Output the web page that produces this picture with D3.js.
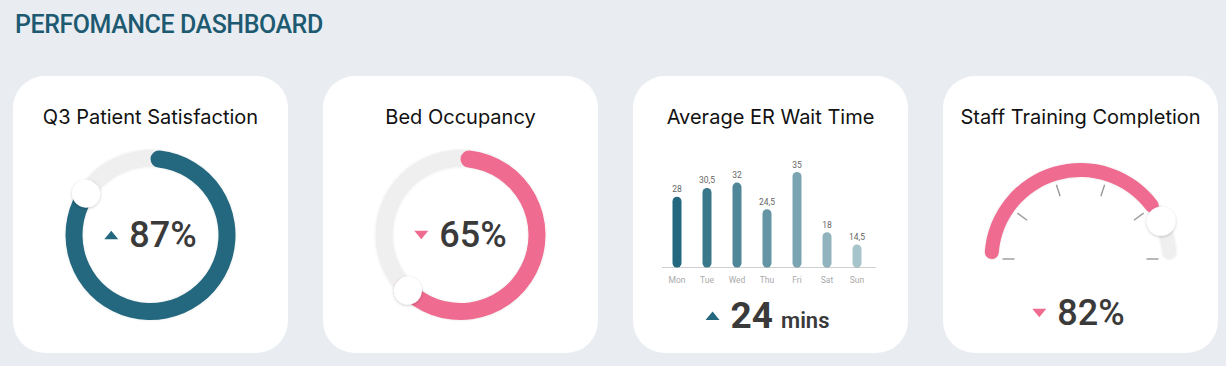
<!DOCTYPE html>
<html>
<head>
<meta charset="utf-8">
<script src="https://cdn.jsdelivr.net/npm/d3@7"></script>
<style>
  html, body { margin: 0; padding: 0; background: #e9edf1; }
  svg { display: block; font-family: Inter, "Noto Sans", sans-serif; }
</style>
</head>
<body>
<svg id="chart"></svg>
<script>
const dashboardTitle = "PERFOMANCE DASHBOARD";
const cardTitles = ["Q3 Patient Satisfaction", "Bed Occupancy", "Average ER Wait Time", "Staff Training Completion"];

const satisfaction = { value: 87, trend: "up" };
const occupancy = { value: 65, trend: "down" };

const days = ["Mon", "Tue", "Wed", "Thu", "Fri", "Sat", "Sun"];
const waitTimes = [28, 30.5, 32, 24.5, 35, 18, 14.5];
const avgWait = { value: 24, unit: "mins", trend: "up" };

const training = { value: 82, trend: "down" };
const gaugeTicks = [0, 20, 40, 60, 80, 100];

const width = 1226;
const height = 366;
const teal = "#23687e";
const pink = "#ef6b90";
const track = "#efefef";
const textDark = "#3a3a3a";
const numberFont = "Roboto, sans-serif";

const svg = d3.select("#chart").attr("width", width).attr("height", height);
const defs = svg.append("defs");

const knobShadow = defs.append("filter").attr("id", "knob-shadow")
  .attr("x", "-50%").attr("y", "-50%").attr("width", "200%").attr("height", "200%");
knobShadow.append("feDropShadow").attr("dx", 0).attr("dy", 1).attr("stdDeviation", 1.6)
  .attr("flood-color", "#000").attr("flood-opacity", 0.22);

const trackShadow = defs.append("filter").attr("id", "track-shadow")
  .attr("x", "-20%").attr("y", "-20%").attr("width", "140%").attr("height", "140%");
trackShadow.append("feDropShadow").attr("dx", 0).attr("dy", 0).attr("stdDeviation", 1.2)
  .attr("flood-color", "#000").attr("flood-opacity", 0.12);

svg.append("rect").attr("width", width).attr("height", height).attr("fill", "#e9edf1");

svg.append("text")
  .attr("x", 15)
  .attr("y", 33)
  .attr("font-family", "Roboto, sans-serif")
  .attr("font-size", 25)
  .attr("font-weight", 500)
  .attr("letter-spacing", -0.45)
  .attr("fill", "#1d5a71")
  .text(dashboardTitle);

const cardX = d3.scaleBand().domain(d3.range(4)).range([13, 1218]).paddingInner(35 / 310).paddingOuter(0);
const cardY = 76;
const cardH = 277;
const bw = cardX.bandwidth();

const cards = svg.selectAll("g.card")
  .data(cardTitles)
  .join("g")
  .attr("class", "card")
  .attr("transform", (d, i) => `translate(${cardX(i)},${cardY})`);

cards.append("rect")
  .attr("width", bw)
  .attr("height", cardH)
  .attr("rx", 32)
  .attr("fill", "#ffffff");

cards.append("text")
  .attr("x", bw / 2)
  .attr("y", 48)
  .attr("text-anchor", "middle")
  .attr("font-size", 20)
  .attr("fill", "#111")
  .text((d) => d);

function trianglePath(cx, cy, up) {
  const w = 14, h = 8.5;
  return up
    ? `M${cx - w / 2},${cy + h / 2}L${cx + w / 2},${cy + h / 2}L${cx},${cy - h / 2}Z`
    : `M${cx - w / 2},${cy - h / 2}L${cx + w / 2},${cy - h / 2}L${cx},${cy + h / 2}Z`;
}

// centred "triangle + value" readout
function drawReadout(g, cx, baseline, parts, trend, color) {
  const group = g.append("g");
  const texts = parts.map((p) => group.append("text")
    .attr("y", baseline)
    .attr("font-family", numberFont)
    .attr("font-size", p.size)
    .attr("font-weight", p.weight)
    .attr("fill", textDark)
    .text(p.text));
  const widths = texts.map((t) => t.node().getComputedTextLength());
  const triW = 14;
  const gap = 11;
  const total = triW + gap + d3.sum(widths) + (parts.length - 1) * 8;
  let x = cx - total / 2;
  group.append("path")
    .attr("d", trianglePath(x + triW / 2, baseline - parts[0].size * 0.36 + 1, trend === "up"))
    .attr("fill", color);
  x += triW + gap;
  texts.forEach((t, i) => {
    t.attr("x", x);
    x += widths[i] + 8;
  });
}

// ---- donuts
const donutR = { inner: 68, outer: 85 };
const donutMid = (donutR.inner + donutR.outer) / 2;
const knobR = 14;
const donutAngle = d3.scaleLinear().domain([0, 100]).range([0, 2 * Math.PI]);
const donutArc = d3.arc().innerRadius(donutR.inner).outerRadius(donutR.outer).cornerRadius((donutR.outer - donutR.inner) / 2);

function drawDonut(g, cx, cy, item, color) {
  const c = g.append("g").attr("transform", `translate(${cx},${cy})`);
  c.append("path")
    .attr("d", donutArc({ startAngle: 0, endAngle: 2 * Math.PI }))
    .attr("fill", track)
    .attr("filter", "url(#track-shadow)");
  const end = donutAngle(item.value);
  c.append("path")
    .attr("d", donutArc({ startAngle: 0, endAngle: end }))
    .attr("fill", color);
  const ka = end - Math.asin(knobR / donutMid);
  c.append("circle")
    .attr("cx", donutMid * Math.sin(ka))
    .attr("cy", -donutMid * Math.cos(ka))
    .attr("r", knobR)
    .attr("fill", "#fff")
    .attr("filter", "url(#knob-shadow)");
  drawReadout(g, cx, cy + 12, [{ text: `${item.value}%`, size: 36, weight: 500 }], item.trend, color);
}

drawDonut(cards.filter((d, i) => i === 0), bw / 2, 159, satisfaction, teal);
drawDonut(cards.filter((d, i) => i === 1), bw / 2, 159, occupancy, pink);

// ---- bar chart
const barCard = cards.filter((d, i) => i === 2);
const x = d3.scaleBand().domain(days).range([29, 239]);
const y = d3.scaleLinear().domain([8, 35]).range([191.5, 96]);
const shade = d3.scaleLinear().domain([0, days.length - 1]).range([1, 0.4]);
const barW = 9;

barCard.append("line")
  .attr("x1", 29).attr("x2", 243)
  .attr("y1", y.range()[0]).attr("y2", y.range()[0])
  .attr("stroke", "#cfcfcf").attr("stroke-width", 1);

barCard.selectAll("rect.bar")
  .data(waitTimes)
  .join("rect")
  .attr("class", "bar")
  .attr("x", (d, i) => x(days[i]) + x.bandwidth() / 2 - barW / 2)
  .attr("y", (d) => y(d))
  .attr("width", barW)
  .attr("height", (d) => y.range()[0] - y(d))
  .attr("rx", barW / 2)
  .attr("fill", teal)
  .attr("fill-opacity", (d, i) => shade(i));

barCard.selectAll("text.val")
  .data(waitTimes)
  .join("text")
  .attr("class", "val")
  .attr("x", (d, i) => x(days[i]) + x.bandwidth() / 2)
  .attr("y", (d) => y(d) - 4.5)
  .attr("text-anchor", "middle")
  .attr("font-family", "Roboto, sans-serif")
  .attr("font-size", 8.5)
  .attr("fill", "#666")
  .text((d) => String(d).replace(".", ","));

barCard.selectAll("text.day")
  .data(days)
  .join("text")
  .attr("class", "day")
  .attr("x", (d) => x(d) + x.bandwidth() / 2)
  .attr("y", 206.5)
  .attr("text-anchor", "middle")
  .attr("font-family", "Roboto, sans-serif")
  .attr("font-size", 8.5)
  .attr("fill", "#aaa")
  .text((d) => d);

drawReadout(barCard, bw / 2 - 3, 252, [
  { text: `${avgWait.value}`, size: 37, weight: 700 },
  { text: avgWait.unit, size: 22, weight: 600 },
], avgWait.trend, teal);

// ---- gauge
const gaugeCard = cards.filter((d, i) => i === 3);
const gcx = bw / 2, gcy = 183;
const gR = { inner: 82, outer: 96 };
const gMid = (gR.inner + gR.outer) / 2;
const gaugeAngle = d3.scaleLinear().domain([0, 100]).range([-Math.PI / 2, Math.PI / 2]);
const gaugeArc = d3.arc().innerRadius(gR.inner).outerRadius(gR.outer).cornerRadius((gR.outer - gR.inner) / 2);
const gg = gaugeCard.append("g").attr("transform", `translate(${gcx},${gcy})`);

gg.append("path")
  .attr("d", gaugeArc({ startAngle: gaugeAngle(0), endAngle: gaugeAngle(100) }))
  .attr("fill", track)
  .attr("filter", "url(#track-shadow)");
const gEnd = gaugeAngle(training.value);
gg.append("path")
  .attr("d", gaugeArc({ startAngle: gaugeAngle(0), endAngle: gEnd }))
  .attr("fill", pink);

gg.selectAll("line.tick")
  .data(gaugeTicks)
  .join("line")
  .attr("class", "tick")
  .attr("x1", (d) => 66 * Math.sin(gaugeAngle(d)))
  .attr("y1", (d) => -66 * Math.cos(gaugeAngle(d)))
  .attr("x2", (d) => 78 * Math.sin(gaugeAngle(d)))
  .attr("y2", (d) => -78 * Math.cos(gaugeAngle(d)))
  .attr("stroke", "#9a9a9a")
  .attr("stroke-width", 1.4);

const gKnob = gEnd + Math.asin(knobR / gMid) * 0.8;
gg.append("circle")
  .attr("cx", gMid * Math.sin(gKnob))
  .attr("cy", -gMid * Math.cos(gKnob))
  .attr("r", 14.5)
  .attr("fill", "#fff")
  .attr("filter", "url(#knob-shadow)");

drawReadout(gaugeCard, bw / 2 - 2, 249, [{ text: `${training.value}%`, size: 36, weight: 500 }], training.trend, pink);
</script>
</body>
</html>
